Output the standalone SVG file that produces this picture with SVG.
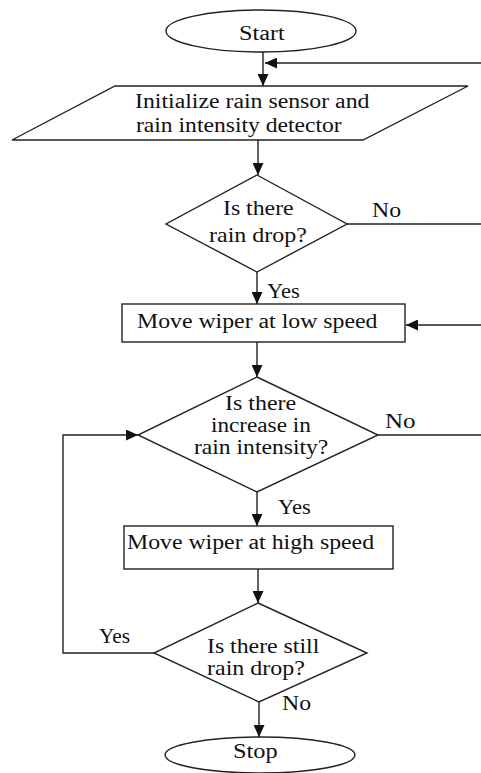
<svg xmlns="http://www.w3.org/2000/svg" width="481" height="773" viewBox="0 0 481 773">
<style>
.s{fill:#fff;stroke:#222;stroke-width:1.4}
.c{fill:none;stroke:#222;stroke-width:1.4}
.t{font-family:'Liberation Serif','Times New Roman',serif;font-size:20px;fill:#111}
</style>
<defs>
<marker id="ah" markerUnits="userSpaceOnUse" markerWidth="12" markerHeight="11" refX="12" refY="5.5" orient="auto">
<path d="M0,0 L12,5.5 L0,11 z" fill="#111"/>
</marker>
</defs>
<rect width="481" height="773" fill="#fff"/>
<g id="connectors">
<path class="c" d="M263,52 V86" marker-end="url(#ah)"/>
<path class="c" d="M481,63 H265" marker-end="url(#ah)"/>
<path class="c" d="M258,140 V175" marker-end="url(#ah)"/>
<path class="c" d="M347,224 H481"/>
<path class="c" d="M257,272 V304" marker-end="url(#ah)"/>
<path class="c" d="M481,325 H406" marker-end="url(#ah)"/>
<path class="c" d="M257,342 V377" marker-end="url(#ah)"/>
<path class="c" d="M378,435 H481"/>
<path class="c" d="M257,492 V526" marker-end="url(#ah)"/>
<path class="c" d="M258,569 V603" marker-end="url(#ah)"/>
<path class="c" d="M154,653 H63 V435 H138" marker-end="url(#ah)"/>
<path class="c" d="M259,702 V737" marker-end="url(#ah)"/>
<text class="t" transform="translate(372,217) scale(1.19,1)">No</text>
<text class="t" transform="translate(267,298) scale(1.13,1)">Yes</text>
<text class="t" transform="translate(385,428) scale(1.25,1)">No</text>
<text class="t" transform="translate(278,514) scale(1.13,1)">Yes</text>
<text class="t" transform="translate(99,643) scale(1.07,1)">Yes</text>
<text class="t" transform="translate(282,710) scale(1.19,1)">No</text>
</g>
<g id="start">
<ellipse class="s" cx="261" cy="31" rx="95" ry="21"/>
<text class="t" transform="translate(239,40) scale(1.21,1)">Start</text>
</g>
<g id="init">
<polygon class="s" points="115,86 468,86 363,140 12,140"/>
<text class="t" transform="translate(135,108) scale(1.19,1)">Initialize rain sensor and</text>
<text class="t" transform="translate(136,132) scale(1.18,1)">rain intensity detector</text>
</g>
<g id="decision1">
<polygon class="s" points="257,175 347,224 257,272 166,224"/>
<text class="t" transform="translate(223,215) scale(1.19,1)">Is there</text>
<text class="t" transform="translate(209,242) scale(1.2,1)">rain drop?</text>
</g>
<g id="low">
<rect class="s" x="122" y="304" width="283" height="38"/>
<text class="t" transform="translate(137,328) scale(1.19,1)">Move wiper at low speed</text>
</g>
<g id="decision2">
<polygon class="s" points="257,377 378,435 257,492 138,435"/>
<text class="t" transform="translate(225,410) scale(1.2,1)">Is there</text>
<text class="t" transform="translate(211,432) scale(1.16,1)">increase in</text>
<text class="t" transform="translate(194,454) scale(1.18,1)">rain intensity?</text>
</g>
<g id="high">
<rect class="s" x="124" y="526" width="269" height="43"/>
<text class="t" transform="translate(127,549) scale(1.19,1)">Move wiper at high speed</text>
</g>
<g id="decision3">
<polygon class="s" points="258,603 367,653 259,702 154,653"/>
<text class="t" transform="translate(207,653) scale(1.19,1)">Is there still</text>
<text class="t" transform="translate(207,675) scale(1.2,1)">rain drop?</text>
</g>
<g id="stop">
<ellipse class="s" cx="260" cy="755" rx="95" ry="18"/>
<text class="t" transform="translate(233,758) scale(1.22,1)">Stop</text>
</g>
</svg>
